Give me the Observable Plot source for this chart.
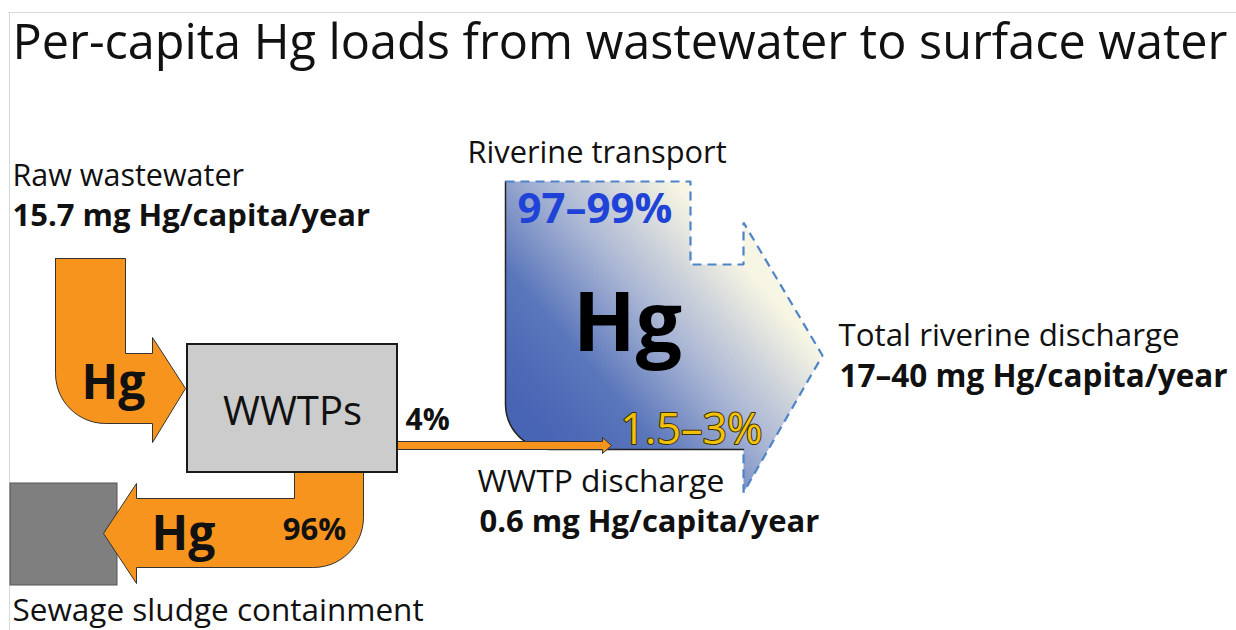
<!DOCTYPE html>
<html>
<head>
<meta charset="utf-8">
<script src="https://cdn.jsdelivr.net/npm/d3@7"></script>
<script src="https://cdn.jsdelivr.net/npm/@observablehq/plot@0.6"></script>
<style>
html, body { margin: 0; padding: 0; background: #fff; overflow: hidden; }
#chart svg { display: block; font-family: "Open Sans", sans-serif; }
</style>
</head>
<body>
<div id="chart"></div>
<script>
// ---- Content (text and values) ----
const title = "Per-capita Hg loads from wastewater to surface water";
const stageNames = ["Raw wastewater", "Riverine transport", "WWTP discharge", "Total riverine discharge", "Sewage sludge containment"];
const stageLoads = ["15.7 mg Hg/capita/year", "0.6 mg Hg/capita/year", "17–40 mg Hg/capita/year"];
const shares = ["4%", "96%", "97–99%", "1.5–3%"];
const element = "Hg";
const plantLabel = "WWTPs";

// ---- Diagram geometry (vertices of each flow shape) ----
function arc(cx, cy, r, a0, a1, n = 14) {
  const pts = [];
  for (let i = 0; i <= n; i++) {
    const a = (a0 + (a1 - a0) * i / n) * Math.PI / 180;
    pts.push([cx + r * Math.cos(a), cy + r * Math.sin(a)]);
  }
  return pts;
}
const inflowShape = [[55,258],[125,258],[125,353],[152,353],[152,337],[185,388],[152,442],[152,423],
  ...arc(105,373,50,90,180),[55,258]];
const outflowShape = [[294,472],[363,472],[363,517],...arc(313,517,50,0,90),[136,567],[136,583],[103,533],
  [136,483],[136,498],[294,498],[294,472]];
const effluentShape = [[397,441],[602,441],[602,437],[611,445],[602,453],[602,449],[397,449],[397,441]];
const riverFill = [[505,181],[690,181],[690,264],[743,264],[743,222],[822,355],[743,492],[743,449],
  ...arc(550,404,45,90,180),[505,181]];
const riverSolidEdge = [[505,181],...arc(550,404,45,180,90),[743,449]];
const riverDashedEdge = [[505,181],[690,181],[690,264],[743,264],[743,222],[822,355],[743,492],[743,449]];
const plantBox = [{x1:187, x2:397, y1:344, y2:472}];
const sludgeBox = [{x1:10, x2:117, y1:483, y2:585}];
const frame = [[8,12],[1236,12]];
const frameLeft = [[9,12],[9,630]];

const ORANGE = "#f7941d";
const OUTLINE = "#333";
const px = d => d[0], py = d => d[1];

const T = (txt, o) => Plot.text([txt], {text: d => d, lineAnchor: "bottom", textAnchor: "start", fill: "#111", ...o});

const chart = Plot.plot({
  width: 1236,
  height: 630,
  margin: 0,
  x: {domain: [0, 1236], range: [0, 1236], axis: null},
  y: {domain: [0, 630], range: [0, 630], axis: null},
  marks: [
    Plot.line(frame, {x: px, y: py, stroke: "#d8d8d8", strokeWidth: 1}),
    Plot.line(frameLeft, {x: px, y: py, stroke: "#d8d8d8", strokeWidth: 1}),
    // riverine transport
    Plot.line(riverFill, {x: px, y: py, fill: "url(#riverGrad)", stroke: "none"}),
    Plot.line(riverSolidEdge, {x: px, y: py, stroke: "#222", strokeWidth: 1.5, strokeLinejoin: "miter"}),
    Plot.line(riverDashedEdge, {x: px, y: py, stroke: "#4f84c8", strokeWidth: 2.2, strokeDasharray: "9,6", strokeLinecap: "butt", strokeLinejoin: "miter"}),
    // sludge
    Plot.rect(sludgeBox, {x1: "x1", x2: "x2", y1: "y1", y2: "y2", fill: "#7f7f7f", stroke: "#555", strokeWidth: 1}),
    // flows
    Plot.line(inflowShape, {x: px, y: py, fill: ORANGE, stroke: OUTLINE, strokeWidth: 1, strokeLinejoin: "miter"}),
    Plot.line(outflowShape, {x: px, y: py, fill: ORANGE, stroke: OUTLINE, strokeWidth: 1, strokeLinejoin: "miter"}),
    Plot.line(effluentShape, {x: px, y: py, fill: ORANGE, stroke: OUTLINE, strokeWidth: 1, strokeLinejoin: "miter"}),
    // plant box
    Plot.rect(plantBox, {x1: "x1", x2: "x2", y1: "y1", y2: "y2", fill: "#cccccc", stroke: "#1a1a1a", strokeWidth: 2}),
    // texts
    T(title, {x: 12, y: 58, fontSize: 48.6}),
    T(stageNames[0], {x: 12, y: 185, fontSize: 30.5}),
    T(stageLoads[0], {x: 12, y: 225, fontSize: 31, fontWeight: "bold"}),
    T(stageNames[1], {x: 467, y: 162, fontSize: 30.8}),
    T(element, {x: 113, y: 398, fontSize: 48, fontWeight: "bold", textAnchor: "middle"}),
    T(plantLabel, {x: 292, y: 424, fontSize: 40, textAnchor: "middle"}),
    T(shares[0], {x: 405, y: 429, fontSize: 30, fontWeight: "bold"}),
    T(element, {x: 183, y: 549, fontSize: 48, fontWeight: "bold", textAnchor: "middle"}),
    T(shares[1], {x: 314, y: 539, fontSize: 31, fontWeight: "bold", textAnchor: "middle"}),
    T(stageNames[4], {x: 12, y: 620, fontSize: 31.5}),
    T(shares[2], {x: 517, y: 222, fontSize: 42, fontWeight: "bold", fill: "#1f43d6"}),
    T(element, {x: 627, y: 350, fontSize: 82, fontWeight: "bold", textAnchor: "middle", fill: "#000"}),
    T(shares[3], {x: 620, y: 443, fontSize: 43, fill: "#f4c10a", stroke: "#3a3000", strokeWidth: 2, paintOrder: "stroke"}),
    T(stageNames[2], {x: 477, y: 491, fontSize: 31.8}),
    T(stageLoads[1], {x: 479, y: 531, fontSize: 31, fontWeight: "bold"}),
    T(stageNames[3], {x: 838, y: 345, fontSize: 31.3}),
    T(stageLoads[2], {x: 839, y: 386, fontSize: 31.5, fontWeight: "bold"})
  ]
});

document.getElementById("chart").appendChild(chart);

// gradient definition used by the riverine-transport shape
const svg = d3.select(chart);
const defs = svg.insert("defs", ":first-child");
const grad = defs.append("linearGradient").attr("id", "riverGrad")
  .attr("gradientUnits", "userSpaceOnUse")
  .attr("x1", 540).attr("y1", 430).attr("x2", 740).attr("y2", 260);
[["0", "#4864b4"], ["0.3", "#5a76bb"], ["0.62", "#aab6d4"], ["1", "#f7f5e3"]]
  .forEach(([o, c]) => grad.append("stop").attr("offset", o).attr("stop-color", c));
</script>
</body>
</html>
